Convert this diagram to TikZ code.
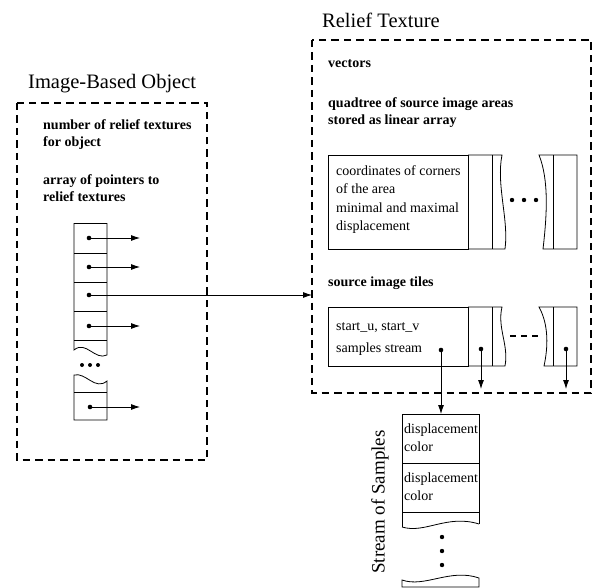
\documentclass[tikz,border=0pt]{standalone}
\usepackage{fontspec}
\setmainfont{Liberation Serif}
\usetikzlibrary{arrows.meta}

\begin{document}
\begin{tikzpicture}[x=1pt,y=-1pt,
    txt/.style={anchor=north west,inner sep=0pt,align=left,font=\fontsize{14}{18.5}\selectfont},
    bold/.style={anchor=north west,inner sep=0pt,align=left,font=\fontsize{14}{17.5}\selectfont\bfseries},
    title/.style={anchor=base west,inner sep=0pt,font=\fontsize{20.5}{24}\selectfont},
    frame/.style={line width=1.4pt,dash pattern=on 7.5pt off 5pt},
    cell/.style={line width=0.8pt},
    ptr/.style={-{Latex[length=9pt,width=6pt]},line width=0.8pt}]
    \useasboundingbox (0,0) rectangle (594,588);

    % Titles
    \node[title] (ibo) at (28,89) {Image-Based Object};
    \node[title] (rt) at (322,28) {Relief Texture};

    % Image-based object
    \draw[frame] (17,103) rectangle (207,460);
    \node[bold] (num) at (43,117) {\strut number of relief textures\\for object};
    \node[bold] (arr) at (43,172) {\strut array of pointers to\\relief textures};

    % array of pointers
    \draw[cell] (74,223) -- (107,223);
    \foreach \y in {253,282,311,340} \draw[cell] (74,\y) -- (107,\y);
    \draw[cell] (74,223) -- (74,350) .. controls (86,340) and (95,361) .. (107,355) -- (107,223);
    \foreach \x in {82,90,98} \fill (\x,365) circle (2pt);
    \draw[cell] (74,375) .. controls (86,372) and (95,391) .. (107,381) -- (107,420) -- (74,420) -- cycle;
    \draw[cell] (74,392) -- (107,392);

    \coordinate (p1) at (89,238);   \coordinate (p1e) at (140,238);
    \coordinate (p2) at (89,267);   \coordinate (p2e) at (140,267);
    \coordinate (p3) at (89,295);   \coordinate (p3e) at (312,295);
    \coordinate (p4) at (89,326);   \coordinate (p4e) at (140,326);
    \coordinate (p5) at (90,407);   \coordinate (p5e) at (140,407);
    \foreach \p in {p1,p2,p3,p4,p5} {
        \fill (\p) circle (2.3pt);
        \draw[ptr] (\p) -- (\p e);
    }

    % Relief texture
    \draw[frame] (312,40) rectangle (591,393);
    \node[bold] (vec) at (328,55) {\strut vectors};
    \node[bold] (qt) at (328,95) {\strut quadtree of source image areas\\stored as linear array};

    % quadtree array
    \draw[cell] (328,155) rectangle (468,249);
    \node[txt] (area) at (336,162) {\strut coordinates of corners\\of the area\\minimal and maximal\\displacement};
    \draw[cell] (468,155) -- (502,155) .. controls (496,185) and (509,220) .. (505,249) -- (468,249);
    \draw[cell] (492,155) -- (492,249);
    \foreach \x in {512,524,536} \fill (\x,200) circle (2.2pt);
    \draw[cell] (577,155) -- (539,155) .. controls (549,180) and (547,215) .. (543,249) -- (577,249) -- cycle;
    \draw[cell] (553,155) -- (553,249);

    % tiles array
    \node[bold] (tiles) at (328,274) {\strut source image tiles};
    \draw[cell] (328,307) rectangle (468,366);
    \node[txt] (st) at (336,317) {\strut start\_u, start\_v\\[3.5pt]samples stream};
    \draw[cell] (468,307) -- (502,307) .. controls (497,328) and (509,345) .. (505,366) -- (468,366);
    \draw[cell] (492,307) -- (492,366);
    \draw[line width=1.2pt,dash pattern=on 5.5pt off 5.5pt] (510,336) -- (538,336);
    \draw[cell] (577,307) -- (539,307) .. controls (549,325) and (548,348) .. (544,366) -- (577,366) -- cycle;
    \draw[cell] (553,307) -- (553,366);

    \coordinate (s1) at (441,350);  \coordinate (s1e) at (441,414);
    \coordinate (s2) at (481,349);  \coordinate (s2e) at (481,389);
    \coordinate (s3) at (566,349);  \coordinate (s3e) at (566,389);
    \foreach \p in {s1,s2,s3} {
        \fill (\p) circle (2.3pt);
        \draw[ptr] (\p) -- (\p e);
    }

    % Stream of samples
    \node[rotate=90,inner sep=0pt,font=\fontsize{19}{22}\selectfont] (sos) at (380,502) {Stream of Samples};
    \draw[cell] (402,527) -- (402,414) -- (479,414) -- (479,524);
    \draw[cell] (402,527) .. controls (425,534) and (447,514) .. (479,524);
    \draw[cell] (402,463) -- (479,463);
    \draw[cell] (402,512) -- (479,512);
    \node[txt] (d1) at (404,420) {\strut displacement\\color};
    \node[txt] (d2) at (404,469) {\strut displacement\\color};
    \foreach \y in {537,551,565} \fill (442,\y) circle (2.2pt);
    \draw[cell] (402,587) -- (402,580) .. controls (425,588) and (450,568) .. (479,578) -- (479,587) -- cycle;
\end{tikzpicture}
\end{document}
